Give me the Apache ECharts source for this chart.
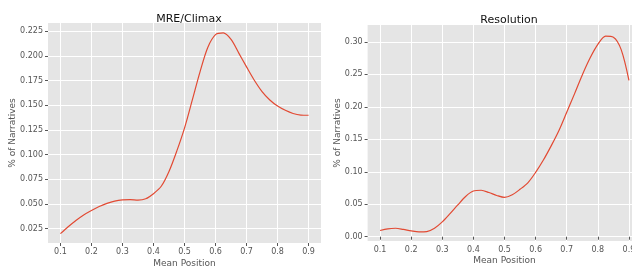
<!DOCTYPE html>
<html>
<head>
<meta charset="utf-8">
<script src="https://cdn.jsdelivr.net/npm/echarts@6/dist/echarts.min.js"></script>
<style>
  html, body { margin: 0; padding: 0; background: #fff; }
  #chart { width: 632px; height: 266px; }
</style>
</head>
<body>
<div id="chart"></div>
<script>
// data
const xTicks = [0.1, 0.2, 0.3, 0.4, 0.5, 0.6, 0.7, 0.8, 0.9]
const climaxTicks = [0.025, 0.05, 0.075, 0.1, 0.125, 0.15, 0.175, 0.2, 0.225]
const resolutionTicks = [0, 0.05, 0.1, 0.15, 0.2, 0.25, 0.3]

const positions = [0.1, 0.125, 0.15, 0.175, 0.2, 0.225, 0.25, 0.275, 0.3, 0.325, 0.35, 0.375, 0.4, 0.425, 0.45, 0.475, 0.5,
  0.525, 0.55, 0.575, 0.6, 0.625, 0.65, 0.675, 0.7, 0.725, 0.75, 0.775, 0.8, 0.825, 0.85, 0.875, 0.9]

const climax = [0.020, 0.027, 0.0334, 0.039, 0.0435, 0.0475, 0.0507, 0.053, 0.0542, 0.0545, 0.0540, 0.0553, 0.0605, 0.068, 0.083, 0.1036, 0.127,
  0.1553, 0.184, 0.2087, 0.2217, 0.2234, 0.2168, 0.203, 0.189, 0.1755, 0.164, 0.1555, 0.1493, 0.145, 0.1418, 0.1402, 0.140]

const resolution = [0.0095, 0.0122, 0.0130, 0.0112, 0.0090, 0.0074, 0.0078, 0.0130, 0.0228, 0.0355, 0.049, 0.062, 0.0703, 0.0715, 0.068, 0.0635, 0.0605,
  0.0645, 0.073, 0.083, 0.099, 0.118, 0.1398, 0.1635, 0.1916, 0.2199, 0.249, 0.275, 0.296, 0.3088, 0.3072, 0.288, 0.2407]

const font = 'DejaVu Sans'
const labelColor = '#555555'
const lineColor = '#E24A33'

const chart = echarts.init(document.getElementById('chart'))

const pairs = (xs, ys) => xs.map((x, i) => [x, ys[i]])

const makeX = (gridIndex, gap) => ({
  type: 'value',
  gridIndex,
  min: 0.06,
  max: 0.94,
  name: 'Mean Position',
  nameLocation: 'middle',
  nameGap: gap,
  nameMoveOverlap: false,
  nameTextStyle: { color: labelColor, fontFamily: font, fontSize: 9 },
  axisLine: { show: false },
  axisTick: { show: true, length: 3, customValues: xTicks, lineStyle: { color: labelColor } },
  axisLabel: {
    customValues: xTicks, color: labelColor, fontFamily: font, fontSize: 8, margin: 5,
    formatter: (v) => v.toFixed(1)
  },
  splitLine: { show: true, lineStyle: { color: '#fff', width: 1 } }
})

const makeY = (gridIndex, min, max, ticks, digits, gap) => ({
  type: 'value',
  gridIndex,
  min,
  max,
  name: '% of Narratives',
  nameLocation: 'middle',
  nameGap: gap,
  nameMoveOverlap: false,
  nameTextStyle: { color: labelColor, fontFamily: font, fontSize: 9 },
  axisLine: { show: false },
  axisTick: { show: true, length: 3, customValues: ticks, lineStyle: { color: labelColor } },
  axisLabel: {
    customValues: ticks, color: labelColor, fontFamily: font, fontSize: 8, margin: 5,
    formatter: (v) => v.toFixed(digits)
  },
  splitLine: { show: true, lineStyle: { color: '#fff', width: 1 } }
})

const option = {
  animation: false,
  textStyle: { fontFamily: font },
  title: [
    { text: 'MRE/Climax', left: 184, top: 9, textAlign: 'center',
      textStyle: { fontFamily: font, fontSize: 11, fontWeight: 'normal', color: '#111' } },
    { text: 'Resolution', left: 504, top: 10, textAlign: 'center',
      textStyle: { fontFamily: font, fontSize: 11, fontWeight: 'normal', color: '#111' } }
  ],
  grid: [
    { left: 48, width: 273, top: 23, bottom: 23, outerBoundsMode: 'none', containLabel: false,
      show: true, backgroundColor: '#E5E5E5', borderWidth: 0 },
    // the right panel runs past the canvas edge in the reference
    { left: 367.6, width: 273.8, top: 25, bottom: 25, outerBoundsMode: 'none', containLabel: false,
      show: true, backgroundColor: '#E5E5E5', borderWidth: 0 }
  ],
  xAxis: [makeX(0, 16.5), makeX(1, 15.5)],
  yAxis: [
    makeY(0, 0.0105, 0.2335, climaxTicks, 3, 31),
    makeY(1, -0.0066, 0.3259, resolutionTicks, 2, 25.5)
  ],
  series: [
    {
      type: 'line', xAxisIndex: 0, yAxisIndex: 0,
      data: pairs(positions, climax),
      smooth: 0.3, showSymbol: false,
      lineStyle: { color: lineColor, width: 1.2 }
    },
    {
      type: 'line', xAxisIndex: 1, yAxisIndex: 1,
      data: pairs(positions, resolution),
      smooth: 0.3, showSymbol: false,
      lineStyle: { color: lineColor, width: 1.2 }
    }
  ]
}

chart.setOption(option)
</script>
</body>
</html>
